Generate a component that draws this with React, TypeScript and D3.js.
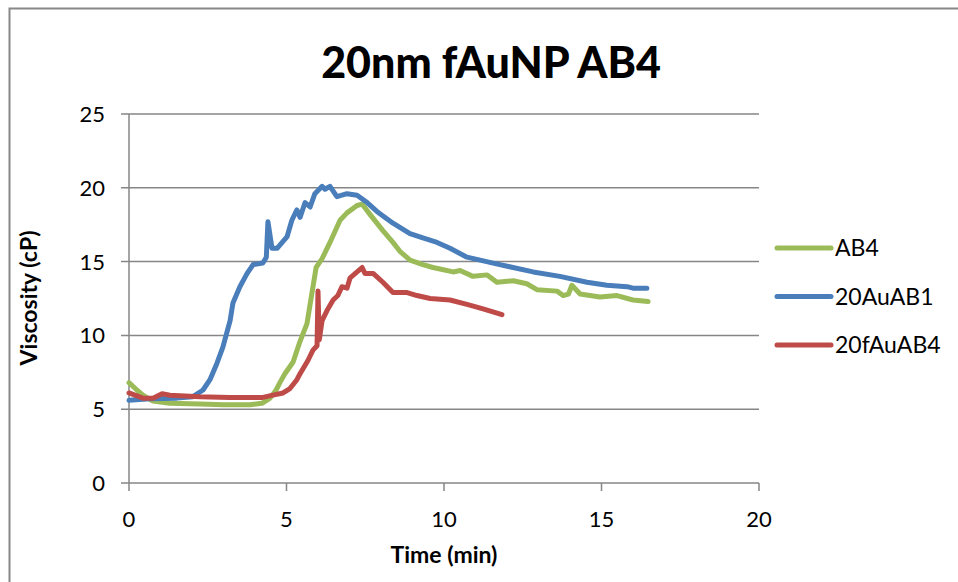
import React from "react";
import * as d3 from "d3";

const title = "20nm fAuNP AB4";
const xTicks = [0, 5, 10, 15, 20];
const yTicks = [0, 5, 10, 15, 20, 25];
const seriesNames = ["AB4", "20AuAB1", "20fAuAB4"];
const seriesColors = ["#9BBB59", "#4A7EBB", "#BE4B48"];

const ab4Time = [0.0, 0.2, 0.44, 0.76, 1.3, 2.25, 3.0, 3.84, 4.22, 4.48, 4.67, 4.79, 4.95, 5.21, 5.43, 5.65, 5.81, 5.94, 6.13, 6.38, 6.7, 6.92, 7.24, 7.4, 7.65, 8.06, 8.38, 8.6, 8.92, 9.33, 9.65, 9.87, 10.29, 10.51, 10.92, 11.37, 11.68, 12.2, 12.63, 12.95, 13.59, 13.78, 13.95, 14.06, 14.32, 14.95, 15.49, 16.0, 16.48];
const ab4Value = [6.8, 6.4, 5.95, 5.55, 5.4, 5.35, 5.3, 5.3, 5.4, 5.75, 6.3, 6.8, 7.4, 8.2, 9.6, 10.8, 12.9, 14.6, 15.2, 16.3, 17.8, 18.3, 18.8, 18.9, 18.2, 17.1, 16.3, 15.7, 15.1, 14.8, 14.6, 14.5, 14.3, 14.4, 14.0, 14.1, 13.6, 13.7, 13.5, 13.1, 13.0, 12.7, 12.8, 13.4, 12.8, 12.6, 12.7, 12.4, 12.3];

const au1Time = [0.0, 0.67, 1.52, 2.03, 2.35, 2.57, 2.79, 2.98, 3.21, 3.3, 3.52, 3.75, 3.94, 4.25, 4.36, 4.41, 4.54, 4.7, 5.02, 5.17, 5.33, 5.43, 5.59, 5.75, 5.9, 6.13, 6.22, 6.38, 6.6, 6.92, 7.24, 7.56, 7.87, 8.38, 8.92, 9.33, 9.78, 10.19, 10.73, 11.56, 12.19, 12.83, 13.68, 14.54, 15.17, 15.81, 16.0, 16.44];
const au1Value = [5.6, 5.7, 5.75, 5.85, 6.3, 7.0, 8.1, 9.2, 11.0, 12.2, 13.3, 14.2, 14.8, 14.9, 15.3, 17.7, 15.9, 15.9, 16.7, 17.8, 18.5, 18.0, 19.0, 18.7, 19.6, 20.1, 19.9, 20.1, 19.4, 19.6, 19.5, 19.0, 18.4, 17.6, 16.9, 16.6, 16.3, 15.9, 15.3, 14.9, 14.6, 14.3, 14.0, 13.6, 13.4, 13.3, 13.2, 13.2];

const fau4Time = [0.0, 0.44, 0.76, 1.05, 1.3, 2.25, 3.2, 4.25, 4.57, 4.89, 5.11, 5.33, 5.43, 5.68, 5.84, 5.97, 6.0, 6.04, 6.13, 6.29, 6.48, 6.63, 6.76, 6.92, 7.02, 7.24, 7.4, 7.49, 7.75, 8.06, 8.38, 8.83, 9.14, 9.56, 10.19, 10.73, 11.24, 11.84];
const fau4Value = [6.1, 5.75, 5.75, 6.05, 5.95, 5.85, 5.8, 5.8, 5.95, 6.1, 6.4, 7.0, 7.4, 8.3, 9.0, 9.3, 13.0, 9.7, 11.0, 11.7, 12.4, 12.7, 13.3, 13.2, 13.9, 14.3, 14.6, 14.2, 14.2, 13.6, 12.9, 12.9, 12.7, 12.5, 12.4, 12.1, 11.8, 11.4];

const seriesTimes = [ab4Time, au1Time, fau4Time];
const seriesValues = [ab4Value, au1Value, fau4Value];

const W = 958;
const H = 582;
const plot = { left: 129, right: 759, top: 114, bottom: 483 };
const FONT = "Lato, 'Open Sans', sans-serif";
const GRID = "#868686";

export default function App() {
  const x = d3.scaleLinear().domain([0, 20]).range([plot.left, plot.right]);
  const y = d3.scaleLinear().domain([0, 25]).range([plot.bottom, plot.top]);
  const line = d3
    .line<[number, number]>()
    .x((d) => x(d[0]))
    .y((d) => y(d[1]));

  return (
    <svg
      width={W}
      height={H}
      style={{ position: "absolute", left: 0, top: 0, background: "#fff" }}
    >
      <rect x={9.5} y={8.5} width={1000} height={700} fill="#fff" stroke="#888" strokeWidth={2} />
      <text x={491} y={78} textAnchor="middle" fontFamily={FONT} fontWeight="900" fontSize={43} fill="#000">
        {title}
      </text>
      {yTicks.map((t) => (
        <g key={"y" + t}>
          <line x1={plot.left - 8} x2={plot.right} y1={y(t)} y2={y(t)} stroke={GRID} strokeWidth={1.5} />
          <text x={105} y={y(t) + 8} textAnchor="end" fontFamily={FONT} fontSize={22} fill="#000">
            {t}
          </text>
        </g>
      ))}
      <line x1={plot.left} x2={plot.left} y1={plot.top} y2={plot.bottom} stroke={GRID} strokeWidth={1.5} />
      {xTicks.map((t) => (
        <g key={"x" + t}>
          <line x1={x(t)} x2={x(t)} y1={plot.bottom} y2={plot.bottom + 8} stroke={GRID} strokeWidth={1.5} />
          <text x={x(t)} y={527} textAnchor="middle" fontFamily={FONT} fontSize={22} fill="#000">
            {t}
          </text>
        </g>
      ))}
      <text x={444} y={563} textAnchor="middle" fontFamily={FONT} fontWeight="bold" fontSize={23} fill="#000">
        Time (min)
      </text>
      <text
        transform="translate(37,298) rotate(-90)"
        textAnchor="middle"
        fontFamily={FONT}
        fontWeight="bold"
        fontSize={23}
        fill="#000"
      >
        Viscosity (cP)
      </text>
      {seriesNames.map((name, i) => {
        const pts = seriesTimes[i].map((t, j) => [t, seriesValues[i][j]] as [number, number]);
        return (
          <path
            key={name}
            d={line(pts) || ""}
            fill="none"
            stroke={seriesColors[i]}
            strokeWidth={5}
            strokeLinejoin="round"
            strokeLinecap="round"
          />
        );
      })}
      {seriesNames.map((name, i) => {
        const ly = 248 + i * 48.5;
        return (
          <g key={"lg" + name}>
            <line x1={777} x2={831} y1={ly} y2={ly} stroke={seriesColors[i]} strokeWidth={5} strokeLinecap="round" />
            <text x={835} y={ly + 8} fontFamily={FONT} fontSize={23} fill="#000">
              {name}
            </text>
          </g>
        );
      })}
    </svg>
  );
}
